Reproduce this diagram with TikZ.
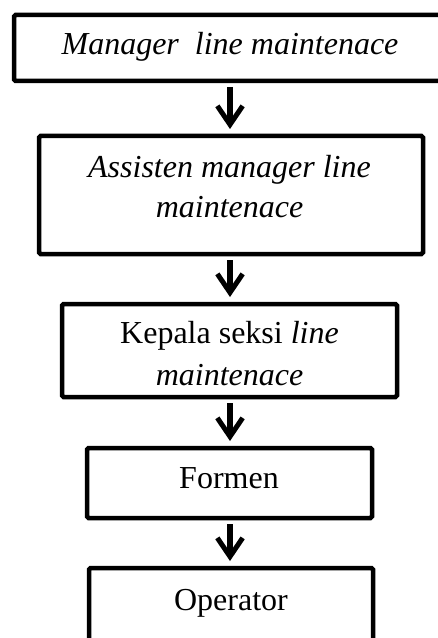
\documentclass[tikz,border=0pt]{standalone}
\usepackage{fontspec}
\setmainfont{Liberation Serif}
\usetikzlibrary{arrows.meta}
\begin{document}
\begin{tikzpicture}[x=0.75pt,y=-0.75pt,
  box/.style={draw=black, line width=4.5*0.75pt, rectangle, outer sep=0pt, inner sep=0pt, rounded corners=1.2pt, fill=white},
  txt/.style={anchor=base, inner sep=0pt, font=\fontsize{24}{30.75}\selectfont},
  flow/.style={line width=5.5*0.75pt, -{Straight Barb[length=14pt,width=19pt,line width=5*0.75pt]}, shorten <=6*0.75pt, shorten >=7*0.75pt}]
\useasboundingbox (0,0) rectangle (438,638);
\clip (0,0) rectangle (438,638);
\node[box, minimum width=431*0.75pt, minimum height=66*0.75pt] (b1) at (229.5,48) {};
\node[box, minimum width=384*0.75pt, minimum height=118*0.75pt] (b2) at (231,195) {};
\node[box, minimum width=335*0.75pt, minimum height=93*0.75pt] (b3) at (229.5,350.5) {};
\node[box, minimum width=285*0.75pt, minimum height=70*0.75pt] (b4) at (229.5,483) {};
\node[box, minimum width=284*0.75pt, minimum height=92*0.75pt] (b5) at (231,614) {};
\node[txt] (t1) at (230,55) {\itshape Manager\ \ line maintenace};
\node[txt] (t2a) at (229.5,177) {\itshape Assisten manager line};
\node[txt] (t2b) at (229.5,217) {\itshape maintenace};
\node[txt] (t3a) at (229.5,343) {Kepala seksi \textit{line}};
\node[txt] (t3b) at (229.5,385) {\itshape maintenace};
\node[txt] (t4) at (229,488) {Formen};
\node[txt] (t5) at (231,610) {Operator};
\coordinate (a1) at (230,81);
\coordinate (a2) at (230,254);
\coordinate (a3) at (230,397);
\coordinate (a4) at (230,518);
\draw[flow] (a1) -- (a1 |- b2.north);
\draw[flow] (a2) -- (a2 |- b3.north);
\draw[flow] (a3) -- (a3 |- b4.north);
\draw[flow] (a4) -- (a4 |- b5.north);
\end{tikzpicture}
\end{document}
